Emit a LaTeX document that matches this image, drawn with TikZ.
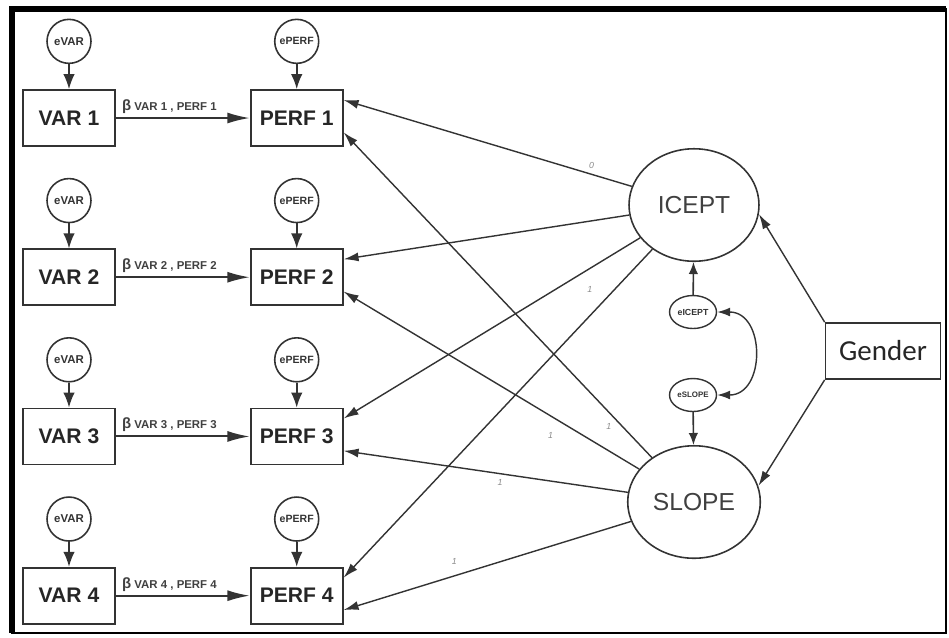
\documentclass[tikz,border=0pt]{standalone}
\usepackage{fontspec}
\setmainfont{Liberation Sans}
\newfontfamily\genderfont{Carlito}
\usetikzlibrary{arrows.meta, positioning, shapes.geometric}

\definecolor{linec}{HTML}{333333}
\definecolor{wtc}{HTML}{8A8A8A}

\tikzset{
  obs/.style={draw=linec, line width=1pt, minimum width=1.84cm, minimum height=1.12cm, text=black!85, font=\fontsize{12}{14}\selectfont\bfseries},
  err/.style={circle, draw=linec, line width=0.9pt, minimum size=0.88cm, inner sep=0pt, text=black!80, font=\fontsize{6.5}{7}\selectfont\bfseries},
  lat/.style={ellipse, draw=linec, line width=0.9pt, minimum width=2.6cm, minimum height=2.25cm, text=black!75, font=\fontsize{14}{16}\selectfont},
  lerr/.style={ellipse, draw=linec, line width=0.8pt, minimum width=0.94cm, minimum height=0.66cm, inner sep=0pt, text=black!80},
  reg/.style={-{Latex[length=4.5mm,width=2.2mm]}, line width=1.1pt, draw=linec},
  earr/.style={-{Latex[length=3mm,width=2.3mm]}, line width=0.9pt, draw=linec},
  load/.style={-{Latex[length=3mm,width=1.8mm]}, line width=0.8pt, draw=linec},
  cov/.style={{Latex[length=2.6mm,width=1.8mm]}-{Latex[length=2.6mm,width=1.8mm]}, line width=0.8pt, draw=linec},
  beta/.style={above=1pt, pos=0.4, inner sep=1pt, text=black!75, font=\fontsize{6.5}{7}\selectfont\bfseries},
  wt/.style={inner sep=1pt, text=wtc, font=\fontsize{5}{5}\selectfont\itshape},
}

\newcommand{\bt}{{\fontsize{8.5}{9}\selectfont β}}

\begin{document}
\begin{tikzpicture}[x=0.02cm, y=-0.02cm, node distance=0.5cm]
  \useasboundingbox (0,0) rectangle (949,637);
  % frame
  \draw[line width=0.6pt] (12,9) rectangle (946,633);
  \draw[line width=3.4pt] (946,9) -- (12,9) -- (12,633);

  % observed variables
  \node[obs] (V1) at (69,118) {VAR 1};
  \node[obs, below=2.03cm of V1] (V2) {VAR 2};
  \node[obs, below=2.03cm of V2] (V3) {VAR 3};
  \node[obs, below=2.03cm of V3] (V4) {VAR 4};
  \node[obs, right=2.68cm of V1] (P1) {PERF 1};
  \node[obs, right=2.68cm of V2] (P2) {PERF 2};
  \node[obs, right=2.68cm of V3] (P3) {PERF 3};
  \node[obs, right=2.68cm of V4] (P4) {PERF 4};

  % residuals
  \node[err, above=of V1] (eV1) {eVAR};
  \node[err, above=of V2] (eV2) {eVAR};
  \node[err, above=of V3] (eV3) {eVAR};
  \node[err, above=of V4] (eV4) {eVAR};
  \node[err, above=of P1, font=\fontsize{6}{7}\selectfont\bfseries] (eP1) {ePERF};
  \node[err, above=of P2, font=\fontsize{6}{7}\selectfont\bfseries] (eP2) {ePERF};
  \node[err, above=of P3, font=\fontsize{6}{7}\selectfont\bfseries] (eP3) {ePERF};
  \node[err, above=of P4, font=\fontsize{6}{7}\selectfont\bfseries] (eP4) {ePERF};

  % growth factors
  \node[lat] (IC) at (694,205) {ICEPT};
  \node[lat] (SL) at (694,502) {SLOPE};
  \node[lerr, font=\fontsize{5}{5}\selectfont\bfseries] (eIC) at (693,312) {eICEPT};
  \node[lerr, font=\fontsize{4.5}{5}\selectfont\bfseries] (eSL) at (693,395) {eSLOPE};
  \node[obs, minimum width=2.3cm, font=\genderfont\fontsize{16.5}{18}\selectfont] (G) at (883,351) {Gender};

  \draw[earr] (eV1) -- (V1);
  \draw[earr] (eV2) -- (V2);
  \draw[earr] (eV3) -- (V3);
  \draw[earr] (eV4) -- (V4);
  \draw[earr] (eP1) -- (P1);
  \draw[earr] (eP2) -- (P2);
  \draw[earr] (eP3) -- (P3);
  \draw[earr] (eP4) -- (P4);

  \draw[reg] (V1) -- (P1) node[beta] {\bt\ VAR 1 , PERF 1};
  \draw[reg] (V2) -- (P2) node[beta] {\bt\ VAR 2 , PERF 2};
  \draw[reg] (V3) -- (P3) node[beta] {\bt\ VAR 3 , PERF 3};
  \draw[reg] (V4) -- (P4) node[beta] {\bt\ VAR 4 , PERF 4};

  % loadings
  \draw[load] (IC) -- (P1.21) node[wt, pos=0.14, above=2pt] {0};
  \draw[load] (IC) -- (P2.21);
  \draw[load] (IC) -- (P3.21) node[wt, pos=0.17, below=9pt] {1};
  \draw[load] (IC) -- (P4.21);
  \draw[load] (SL) -- (P1.-17) node[wt, pos=0.14, below=5pt] {1};
  \draw[load] (SL) -- (P2.-17) node[wt, pos=0.3, below=8pt] {1};
  \draw[load] (SL) -- (P3.-17) node[wt, pos=0.45, below=2pt] {1};
  \draw[load] (SL) -- (P4.-17) node[wt, pos=0.615, above=5pt] {1};

  \draw[earr, -{Latex[length=2.4mm,width=1.9mm]}] (eIC) -- (IC);
  \draw[earr, -{Latex[length=2.4mm,width=1.9mm]}] (eSL) -- (SL);
  \draw[cov] (eIC.east) to[out=0, in=0, looseness=1.5] (eSL.east);

  \draw[load] (G.north west) -- (IC.-8);
  \draw[load] (G.south west) -- (SL.14);
\end{tikzpicture}
\end{document}
